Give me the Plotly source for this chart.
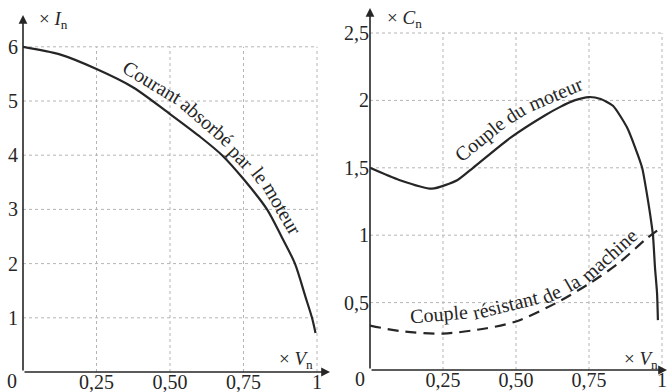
import plotly.graph_objects as go

W, H = 667, 392

# ---------------- data ----------------
current_v = [0, 0.125, 0.25, 0.375, 0.5, 0.6, 0.677, 0.75, 0.83, 0.88, 0.925, 0.96, 0.983, 0.995]
current_i = [6.0, 5.86, 5.59, 5.25, 4.76, 4.35, 4.0, 3.56, 3.0, 2.49, 2.0, 1.4, 1.0, 0.72]

motor_v = [0, 0.1, 0.212, 0.3, 0.353, 0.479, 0.6, 0.65, 0.7, 0.75, 0.79, 0.832, 0.88, 0.908,
           0.932, 0.948, 0.959, 0.969, 0.976, 0.983, 0.986]
motor_c = [1.5, 1.41, 1.345, 1.41, 1.5, 1.72, 1.89, 1.95, 2.0, 2.025, 2.01, 1.96, 1.80, 1.65,
           1.50, 1.31, 1.16, 1.0, 0.76, 0.57, 0.37]

resist_v = [0, 0.1, 0.25, 0.4, 0.5, 0.64, 0.75, 0.85, 0.95, 1.0]
resist_c = [0.33, 0.29, 0.27, 0.31, 0.36, 0.5, 0.64, 0.79, 0.98, 1.06]

x_ticks = [0.25, 0.5, 0.75, 1]
x_ticktext = ["0,25", "0,50", "0,75", "1"]
left_y_ticks = [1, 2, 3, 4, 5, 6]
left_y_ticktext = ["1", "2", "3", "4", "5", "6"]
right_y_ticks = [0.5, 1, 1.5, 2, 2.5]
right_y_ticktext = ["0,5", "1", "1,5", "2", "2,5"]

SERIF = "Liberation Serif"
INK = "#262626"
GRID = "#b5b5b5"

fig = go.Figure()

fig.add_trace(go.Scatter(x=current_v, y=current_i, mode="lines",
                         line=dict(color=INK, width=2.2, shape="spline", smoothing=0.8),
                         xaxis="x", yaxis="y", hoverinfo="skip"))
fig.add_trace(go.Scatter(x=motor_v, y=motor_c, mode="lines",
                         line=dict(color=INK, width=2.2, shape="spline", smoothing=0.6),
                         xaxis="x2", yaxis="y2", hoverinfo="skip"))
fig.add_trace(go.Scatter(x=resist_v, y=resist_c, mode="lines",
                         line=dict(color=INK, width=2.2, shape="spline", smoothing=0.8,
                                   dash="11px,7px"),
                         xaxis="x2", yaxis="y2", hoverinfo="skip"))

# ---------------- grids (dotted) ----------------
shapes = []
def grid(xref, yref, yt, ymax):
    for xv in x_ticks:
        shapes.append(dict(type="line", xref=xref, yref=yref, x0=xv, x1=xv, y0=0, y1=ymax,
                           line=dict(color=GRID, width=1, dash="dot"), layer="below"))
    for yv in yt:
        shapes.append(dict(type="line", xref=xref, yref=yref, x0=0, x1=1, y0=yv, y1=yv,
                           line=dict(color=GRID, width=1, dash="dot"), layer="below"))
grid("x", "y", left_y_ticks, max(left_y_ticks))
grid("x2", "y2", right_y_ticks, max(right_y_ticks))

# ---------------- axes ----------------
L_XR = [0, 307 / 294]
L_YR = [0, 357 / 54.2]
R_XR = [0, 297 / 292]
R_YR = [0, 362 / 134.8]

tickfont = dict(family=SERIF, size=20, color=INK)
common = dict(showgrid=False, zeroline=False, showline=False, ticks="", tickfont=tickfont,
              fixedrange=True, automargin=False)

layout = dict(
    template="none",
    width=W, height=H, margin=dict(l=0, r=0, t=0, b=0, autoexpand=False),
    paper_bgcolor="white", plot_bgcolor="white", showlegend=False,
    xaxis=dict(domain=[23 / W, 330 / W], range=L_XR, tickvals=x_ticks, ticktext=x_ticktext,
               anchor="y", ticklabelstandoff=-4, **common),
    yaxis=dict(domain=[20 / H, 377 / H], range=L_YR, tickvals=left_y_ticks,
               ticktext=left_y_ticktext, anchor="x", ticklabelstandoff=4, **common),
    xaxis2=dict(domain=[370 / W, 1], range=R_XR, tickvals=x_ticks, ticktext=x_ticktext,
                anchor="y2", ticklabelstandoff=-4, **common),
    yaxis2=dict(domain=[22 / H, 384 / H], range=R_YR, tickvals=right_y_ticks,
                ticktext=right_y_ticktext, anchor="x2", ticklabelstandoff=0, **common),
    shapes=shapes,
)

ann = []
def arrow(xref, yref, x0, y0, x1, y1):
    ann.append(dict(xref=xref, yref=yref, axref=xref, ayref=yref, x=x1, y=y1, ax=x0, ay=y0,
                    text="", showarrow=True, arrowhead=2, arrowsize=1.1, arrowwidth=1.6,
                    arrowcolor=INK, standoff=0, startstandoff=0))
arrow("x", "y", 0, 0, 0, L_YR[1])
arrow("x", "y", 0, 0, L_XR[1], 0)
arrow("x2", "y2", 0, 0, 0, R_YR[1])
arrow("x2", "y2", 0, 0, R_XR[1], 0)

def txt(text, px, py, size=20, angle=0, xanchor="center", yanchor="middle"):
    ann.append(dict(xref="paper", yref="paper", x=px / W, y=1 - py / H, text=text,
                    showarrow=False, textangle=angle, xanchor=xanchor, yanchor=yanchor,
                    font=dict(family=SERIF, size=size, color=INK)))

# origin zeros
ann.append(dict(xref="x", yref="y", x=0, y=0, text="0", showarrow=False, xanchor="right",
                yanchor="middle", xshift=-4, yshift=-9, font=tickfont))
ann.append(dict(xref="x2", yref="y2", x=0, y=0, text="0", showarrow=False, xanchor="right",
                yanchor="middle", xshift=-3, yshift=-9, font=tickfont))

# axis unit labels
txt("× <i>I</i><sub>n</sub>", 37, 20, size=19, xanchor="left")
txt("× <i>C</i><sub>n</sub>", 385, 19, size=19, xanchor="left")
txt("× <i>V</i><sub>n</sub>", 277, 360, size=19, xanchor="left")
txt("× <i>V</i><sub>n</sub>", 622, 360, size=19, xanchor="left")

# curve labels (word by word to follow the curves)
for w, px, py, a in [("Courant", 152, 82, 31), ("absorbé", 207, 122, 41), ("par", 241, 157, 46),
                     ("le", 260, 175, 52), ("moteur", 282, 208, 60)]:
    txt(w, px, py, angle=a)
for w, px, py, a in [("Couple", 480, 139, -39), ("du", 515, 113, -32), ("moteur", 555, 94, -23)]:
    txt(w, px, py, angle=a)
for w, px, py, a in [("Couple", 439, 314, -5), ("résistant", 505, 305, -14), ("de", 551, 294, -25),
                     ("la", 572, 283, -30), ("machine", 609, 255, -42)]:
    txt(w, px, py, angle=a)

layout["annotations"] = ann
fig.update_layout(**layout)
fig.write_html("out.html", config={"displayModeBar": False},
               post_script="document.body.style.margin='0';document.body.style.overflow='hidden';")
